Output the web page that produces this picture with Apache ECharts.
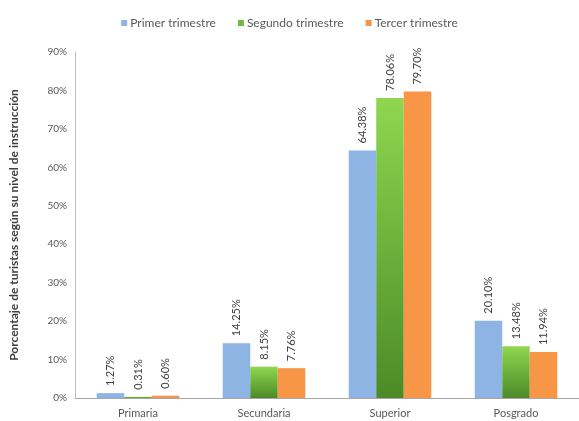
<!DOCTYPE html>
<html>
<head>
<meta charset="utf-8">
<script src="https://cdn.jsdelivr.net/npm/echarts@6/dist/echarts.min.js"></script>
<style>
  html, body { margin: 0; padding: 0; background: #fff; }
  #chart { width: 579px; height: 421px; }
</style>
</head>
<body>
<div id="chart"></div>
<script>
// Nivel de instrucción de los turistas por trimestre (%)
const categories = ['Primaria', 'Secundaria', 'Superior', 'Posgrado'];
const seriesNames = ['Primer trimestre', 'Segundo trimestre', 'Tercer trimestre'];
const primerTrimestre = [1.27, 14.25, 64.38, 20.10];
const segundoTrimestre = [0.31, 8.15, 78.06, 13.48];
const tercerTrimestre = [0.60, 7.76, 79.70, 11.94];
const yTicks = [0, 10, 20, 30, 40, 50, 60, 70, 80, 90];

const FONT = 'Lato, "Open Sans", sans-serif';

const chart = echarts.init(document.getElementById('chart'), null, { renderer: 'canvas' });

const green = new echarts.graphic.LinearGradient(0, 0, 0, 1, [
  { offset: 0, color: '#8fd750' },
  { offset: 1, color: '#4c8a27' }
]);

const labelCfg = {
  show: true,
  position: 'top',
  rotate: 90,
  align: 'left',
  verticalAlign: 'middle',
  distance: 7,
  fontFamily: FONT,
  fontSize: 11,
  color: '#404040',
  formatter: p => p.value.toFixed(2) + '%'
};

function makeSeries(name, data, color) {
  return {
    name: name,
    type: 'bar',
    data: data,
    barGap: '0%',
    barCategoryGap: '34.5%',
    itemStyle: { color: color },
    label: labelCfg
  };
}

chart.setOption({
  animation: false,
  textStyle: { fontFamily: FONT },
  legend: {
    data: [
      { name: seriesNames[0], itemStyle: { color: '#8db4e2' } },
      { name: seriesNames[1], itemStyle: { color: '#6fba3c' } },
      { name: seriesNames[2], itemStyle: { color: '#f79646' } }
    ],
    top: 12,
    left: 'center',
    itemWidth: 6,
    itemHeight: 6,
    itemGap: 22,
    icon: 'rect',
    textStyle: { fontSize: 12, color: '#595959', fontFamily: FONT, padding: [0, 0, 0, -2] }
  },
  grid: { left: 73, right: -8, top: 52, bottom: 23, containLabel: false },
  xAxis: {
    type: 'category',
    data: categories,
    axisLine: { lineStyle: { color: '#a6a6a6', width: 1 } },
    axisTick: { show: false },
    axisLabel: { color: '#595959', fontSize: 11, fontFamily: FONT, margin: 10 }
  },
  yAxis: {
    type: 'value',
    min: yTicks[0],
    max: yTicks[yTicks.length - 1],
    interval: 10,
    name: 'Porcentaje de turistas según su nivel de instrucción',
    nameLocation: 'middle',
    nameGap: 55,
    nameTextStyle: { fontSize: 12, fontWeight: 'bold', color: '#404040', fontFamily: FONT },
    axisLine: { show: true, lineStyle: { color: '#bfbfbf', width: 1 } },
    axisTick: { show: false },
    splitLine: { show: false },
    axisLabel: {
      color: '#595959',
      fontSize: 10,
      fontFamily: FONT,
      margin: 8,
      formatter: v => v + '%'
    }
  },
  series: [
    makeSeries(seriesNames[0], primerTrimestre, '#8db4e2'),
    makeSeries(seriesNames[1], segundoTrimestre, green),
    makeSeries(seriesNames[2], tercerTrimestre, '#f79646')
  ]
});
</script>
</body>
</html>
